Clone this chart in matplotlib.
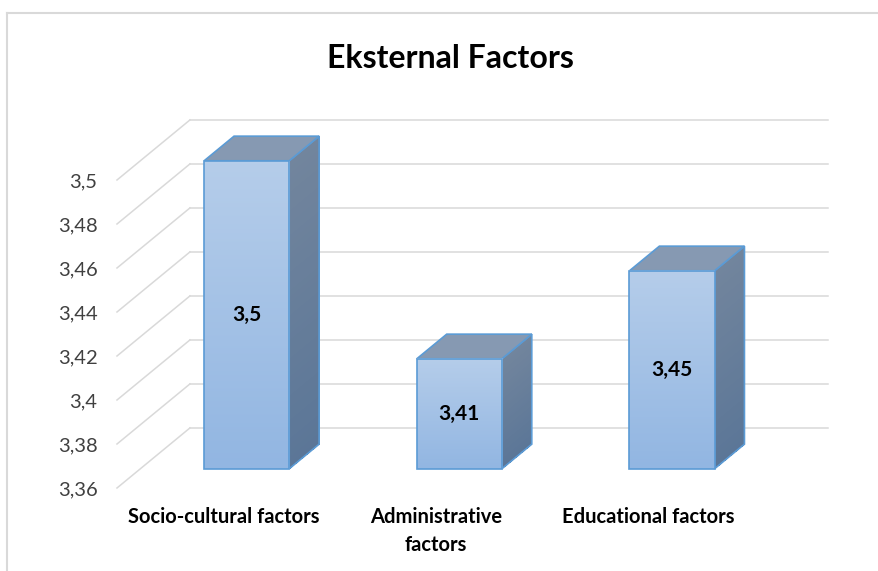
import numpy as np
import matplotlib
matplotlib.use('Agg')
import matplotlib.pyplot as plt
from matplotlib.patches import Polygon
from matplotlib.lines import Line2D
from matplotlib.colors import LinearSegmentedColormap, to_rgb

plt.rcParams['font.family'] = ['Lato', 'DejaVu Sans']

# data
categories = ['Socio-cultural factors', 'Administrative\nfactors', 'Educational factors']
values = [3.5, 3.41, 3.45]
value_labels = ['3,5', '3,41', '3,45']
ticks = [3.36, 3.38, 3.40, 3.42, 3.44, 3.46, 3.48, 3.50]
tick_labels = ['3,36', '3,38', '3,4', '3,42', '3,44', '3,46', '3,48', '3,5']
title = 'Eksternal Factors'

# oblique projection of the depth axis (data units per full depth)
depth_x = 0.343
depth_y = 0.0273
d_front, d_back = 0.32, 0.73
bw = 0.4
grid_col = '#d9d9d9'
edge_col = '#5b9bd5'
front_top, front_bot = '#b5cdea', '#92b6e2'
side_top, side_bot = '#72859d', '#5b7697'
top_col = '#8699b2'


def proj(x, y, d):
    return (x + depth_x * d, y + depth_y * d)


fig = plt.figure(figsize=(8.79, 5.71), dpi=100)
ax = fig.add_axes([117 / 879, 83 / 571, 638 / 879, 308 / 571])
ax.set_autoscale_on(False)
xmin, xmax = -0.5, 2.5
ymin, ymax = ticks[0], ticks[-1]
ax.set_xlim(xmin, xmax)
ax.set_ylim(ymin, ymax)

# side wall + back wall gridlines
for v in ticks:
    p0 = proj(xmin, v, 0)
    p1 = proj(xmin, v, 1)
    p2 = proj(xmax, v, 1)
    ax.plot([p0[0], p1[0]], [p0[1], p1[1]], color=grid_col, lw=1.1, clip_on=False, zorder=0)
    ax.plot([p1[0], p2[0]], [p1[1], p2[1]], color=grid_col, lw=1.1, clip_on=False, zorder=0)

front_cmap = LinearSegmentedColormap.from_list('front', [front_bot, front_top])
sb, st = np.array(to_rgb(side_bot)), np.array(to_rgb(side_top))
n = 50

for i, v in enumerate(values):
    x0, x1 = i - bw / 2, i + bw / 2
    y0 = ymin

    # side face, in thin strips for a gradient
    for k in range(n):
        ya = y0 + (v - y0) * k / n
        yb = y0 + (v - y0) * (k + 1) / n
        c = sb + (st - sb) * (k + 0.5) / n
        strip = Polygon([proj(x1, ya, d_front), proj(x1, ya, d_back),
                         proj(x1, yb, d_back), proj(x1, yb, d_front)],
                        closed=True, facecolor=c, edgecolor='none', lw=0,
                        antialiased=False, clip_on=False, zorder=2)
        ax.add_patch(strip)
    side = Polygon([proj(x1, y0, d_front), proj(x1, y0, d_back),
                    proj(x1, v, d_back), proj(x1, v, d_front)],
                   closed=True, facecolor='none', edgecolor=edge_col, lw=1.2,
                   clip_on=False, zorder=3)
    ax.add_patch(side)

    # top face
    top = Polygon([proj(x0, v, d_front), proj(x0, v, d_back),
                   proj(x1, v, d_back), proj(x1, v, d_front)],
                  closed=True, facecolor=top_col, edgecolor=edge_col, lw=1.2,
                  clip_on=False, zorder=3)
    ax.add_patch(top)

    # front face with vertical gradient
    fx0, fy0 = proj(x0, y0, d_front)
    fx1, fy1 = proj(x1, v, d_front)
    grad = np.linspace(0, 1, 100).reshape(-1, 1)
    ax.imshow(grad, extent=[fx0, fx1, fy0, fy1], origin='lower', aspect='auto',
              cmap=front_cmap, clip_on=False, zorder=4, interpolation='bilinear')
    frame = Polygon([(fx0, fy0), (fx1, fy0), (fx1, fy1), (fx0, fy1)], closed=True,
                    facecolor='none', edgecolor=edge_col, lw=1.2, clip_on=False, zorder=5)
    ax.add_patch(frame)

    lx, ly = proj(i, (y0 + v) / 2, d_front)
    ax.text(lx, ly, value_labels[i], ha='center', va='center', fontsize=15,
            fontweight='bold', color='black', zorder=6)

ax.set_xlim(xmin, xmax)
ax.set_ylim(ymin, ymax)
ax.set_yticks(ticks, tick_labels)
ax.set_xticks(range(len(categories)), categories)
ax.tick_params(axis='y', length=0, pad=14, labelsize=14.5, labelcolor='#404040')
ax.tick_params(axis='x', length=0, pad=14, labelsize=14.5, labelcolor='black')
for t in ax.get_xticklabels():
    t.set_fontweight('bold')
    t.set_linespacing(1.45)
for s in ax.spines.values():
    s.set_visible(False)
ax.patch.set_visible(False)

fig.text(450 / 879, 1 - 59 / 571, title, ha='center', va='center',
         fontsize=23, fontweight='bold', color='black')

# chart area border (cut off at right and bottom)
fig.add_artist(Line2D([7 / 879, 7 / 879], [0, 1 - 13 / 571], transform=fig.transFigure,
                      color=grid_col, lw=1.5))
fig.add_artist(Line2D([7 / 879, 1], [1 - 13 / 571, 1 - 13 / 571], transform=fig.transFigure,
                      color=grid_col, lw=1.5))

fig.savefig('out.png', dpi=100)
